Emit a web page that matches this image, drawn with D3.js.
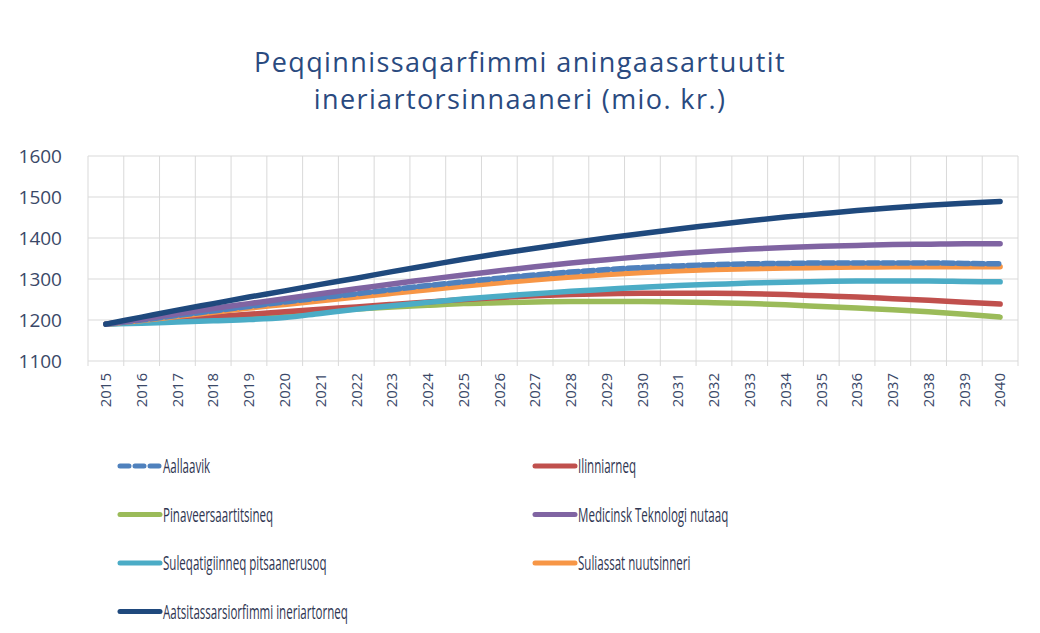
<!DOCTYPE html>
<meta charset="utf-8">
<head>
  <style>
    body { margin: 0; background: #fff; }
    .grid line { stroke: #d9d9d9; stroke-width: 1px; }
    .tick-y { font-family: "Open Sans", sans-serif; font-size: 19px; fill: #3a4868; }
    .tick-x { font-family: "Open Sans", sans-serif; font-size: 15px; fill: #3a4868; }
    .title { font-family: "Open Sans", sans-serif; font-size: 27px; letter-spacing: 1.4px; fill: #2a4a7f; }
    .legend text { font-family: "Open Sans", sans-serif; font-size: 20px; fill: #2f3652; }
  </style>
  <script src="https://d3js.org/d3.v7.min.js"></script>
</head>
<body>
  <svg width="1040" height="633"></svg>
  <script>
    var years = d3.range(2015, 2041);
    var yTicks = [1100, 1200, 1300, 1400, 1500, 1600];
    var titleLines = ["Peqqinnissaqarfimmi aningaasartuutit", "ineriartorsinnaaneri (mio. kr.)"];

    var aallaavik = [1190, 1200, 1211, 1222, 1233, 1244, 1254, 1264, 1274, 1284, 1293, 1302, 1310, 1317, 1323, 1328, 1332, 1335, 1337, 1338, 1339, 1339, 1339, 1339, 1338, 1337];
    var ilinniarneq = [1190, 1196, 1202, 1208, 1214, 1220, 1226, 1232, 1238, 1244, 1250, 1255, 1259, 1262, 1264, 1265, 1265, 1265, 1264, 1262, 1259, 1256, 1252, 1248, 1243, 1239];
    var pinaveersaartitsineq = [1190, 1195, 1200, 1205, 1210, 1215, 1221, 1227, 1232, 1236, 1240, 1242, 1244, 1245, 1245, 1245, 1244, 1242, 1240, 1237, 1233, 1229, 1225, 1220, 1214, 1207];
    var medicinsk = [1190, 1202, 1215, 1228, 1240, 1252, 1264, 1276, 1288, 1299, 1310, 1320, 1330, 1339, 1347, 1355, 1362, 1368, 1373, 1377, 1380, 1382, 1384, 1385, 1386, 1386];
    var suleqatigiinneq = [1190, 1192, 1195, 1198, 1201, 1206, 1216, 1226, 1235, 1243, 1251, 1258, 1264, 1270, 1275, 1280, 1284, 1287, 1290, 1292, 1294, 1295, 1295, 1295, 1294, 1293];
    var suliassat = [1190, 1199, 1209, 1219, 1229, 1238, 1247, 1256, 1265, 1274, 1283, 1291, 1298, 1305, 1311, 1316, 1320, 1323, 1325, 1327, 1328, 1329, 1330, 1330, 1330, 1330];
    var aatsitassarsiorfimmi = [1190, 1207, 1224, 1240, 1256, 1271, 1287, 1302, 1318, 1333, 1348, 1362, 1375, 1388, 1400, 1411, 1422, 1432, 1442, 1451, 1459, 1467, 1474, 1480, 1485, 1489];

    var series = [
      { name: "Aallaavik", values: aallaavik, color: "#4f81bd", dash: "11,4" },
      { name: "Ilinniarneq", values: ilinniarneq, color: "#c0504d" },
      { name: "Pinaveersaartitsineq", values: pinaveersaartitsineq, color: "#9bbb59" },
      { name: "Medicinsk Teknologi nutaaq", values: medicinsk, color: "#8064a2" },
      { name: "Suleqatigiinneq pitsaanerusoq", values: suleqatigiinneq, color: "#4bacc6" },
      { name: "Suliassat nuutsinneri", values: suliassat, color: "#f79646" },
      { name: "Aatsitassarsiorfimmi ineriartorneq", values: aatsitassarsiorfimmi, color: "#1f497d" }
    ];
    // dashed baseline drawn after orange so it sits on top
    var drawOrder = [2, 1, 4, 5, 0, 3, 6];

    var svg = d3.select("svg");
    var plot = { left: 88, right: 1018, top: 156, bottom: 361 };

    var x = d3.scaleBand().domain(years).range([plot.left, plot.right]).padding(0);
    var y = d3.scaleLinear().domain([1100, 1600]).range([plot.bottom, plot.top]);

    // title
    svg.append("g").selectAll("text")
      .data(titleLines)
      .enter().append("text")
      .attr("class", "title")
      .attr("x", 520)
      .attr("y", function(d, i) { return 72 + i * 37; })
      .attr("text-anchor", "middle")
      .text(function(d) { return d; });

    // grid
    var grid = svg.append("g").attr("class", "grid");
    grid.selectAll(".h").data(yTicks).enter().append("line")
      .attr("x1", plot.left).attr("x2", plot.right)
      .attr("y1", function(d) { return y(d); }).attr("y2", function(d) { return y(d); });
    grid.selectAll(".v").data(years.concat([2041])).enter().append("line")
      .attr("x1", function(d, i) { return plot.left + i * x.bandwidth(); })
      .attr("x2", function(d, i) { return plot.left + i * x.bandwidth(); })
      .attr("y1", plot.top).attr("y2", plot.bottom + 5);

    // y axis
    var yAxis = svg.append("g")
      .attr("transform", "translate(" + plot.left + ",0)")
      .call(d3.axisLeft(y).tickValues(yTicks).tickFormat(d3.format("d")).tickSize(0).tickPadding(26));
    yAxis.select(".domain").remove();
    yAxis.selectAll("text").attr("class", "tick-y").attr("font-size", null).attr("font-family", null).attr("fill", null);

    // x axis
    var xAxis = svg.append("g")
      .attr("transform", "translate(0," + plot.bottom + ")")
      .call(d3.axisBottom(x).tickSize(0));
    xAxis.select(".domain").remove();
    xAxis.selectAll("text")
      .attr("class", "tick-x")
      .attr("font-size", null).attr("font-family", null).attr("fill", null)
      .attr("transform", "rotate(-90)")
      .attr("text-anchor", "end")
      .attr("x", -12)
      .attr("y", 0)
      .attr("dy", "0.35em");

    // lines
    var line = d3.line()
      .x(function(d, i) { return x(years[i]) + x.bandwidth() / 2; })
      .y(function(d) { return y(d); })
      .curve(d3.curveMonotoneX);

    svg.append("g").selectAll("path")
      .data(drawOrder.map(function(i) { return series[i]; }))
      .enter().append("path")
      .attr("fill", "none")
      .attr("stroke", function(d) { return d.color; })
      .attr("stroke-width", 5.5)
      .attr("stroke-linecap", "round")
      .attr("stroke-linejoin", "round")
      .attr("stroke-dasharray", function(d) { return d.dash || null; })
      .attr("d", function(d) { return line(d.values); });

    // legend
    var legend = svg.append("g").attr("class", "legend");
    var items = legend.selectAll("g")
      .data(series)
      .enter().append("g")
      .attr("transform", function(d, i) {
        return "translate(" + (i % 2 ? 533 : 118) + "," + (466 + Math.floor(i / 2) * 48.5) + ")";
      });
    items.append("line")
      .attr("x1", 2).attr("x2", 42).attr("y1", 0).attr("y2", 0)
      .attr("stroke", function(d) { return d.color; })
      .attr("stroke-width", 5)
      .attr("stroke-linecap", "round")
      .attr("stroke-dasharray", function(d) { return d.dash ? "9,6" : null; });
    var labels = items.append("text")
      .attr("dy", "0.35em")
      .text(function(d) { return d.name; });

    // the legend font in the original is narrow: squeeze horizontally so the longest label is ~185px
    var longest = d3.max(labels.nodes(), function(n) { return n.getComputedTextLength(); });
    var sx = 185 / longest;
    labels.attr("transform", "translate(45,0) scale(" + sx + ",1)");
  </script>
</body>
